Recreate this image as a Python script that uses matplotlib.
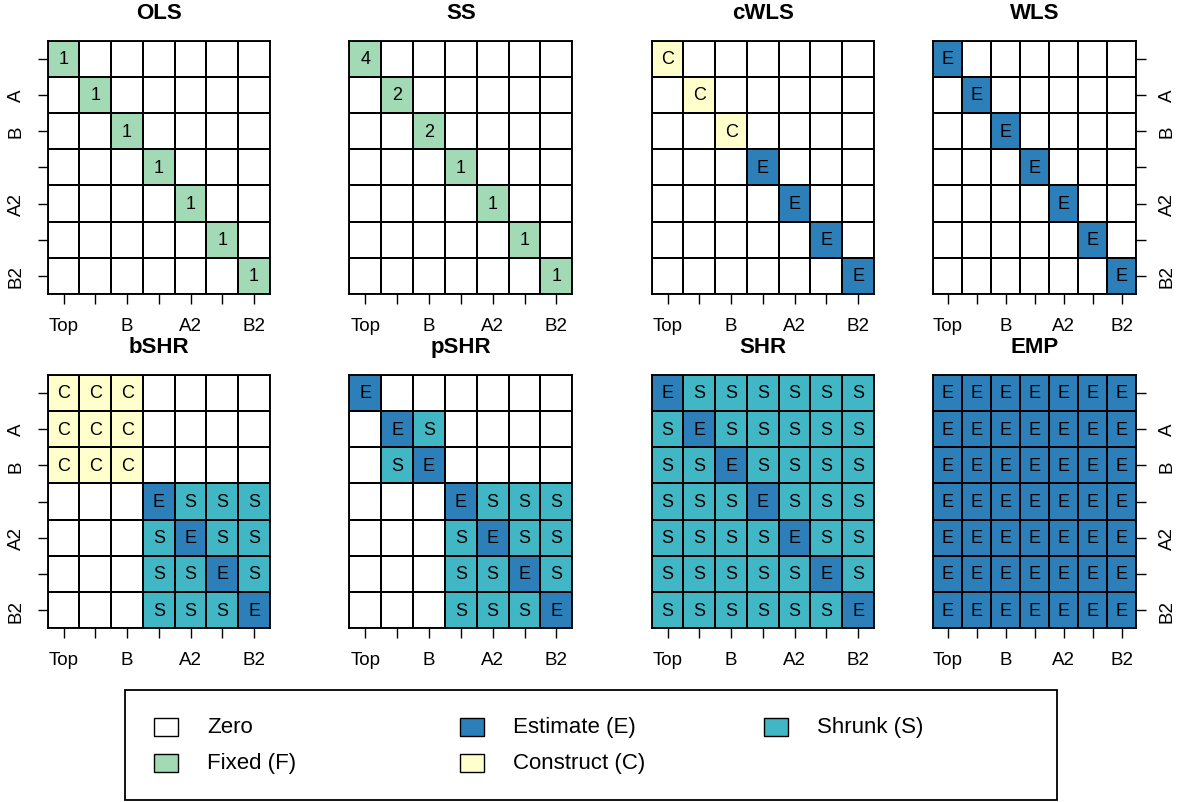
import matplotlib
matplotlib.use("Agg")
import matplotlib.pyplot as plt
import numpy as np
from matplotlib.colors import ListedColormap
from matplotlib.patches import Rectangle

plt.rcParams['font.family'] = ['Liberation Sans', 'DejaVu Sans']

# Series / hierarchy levels
levels = ["Top", "A", "B", "A1", "A2", "B1", "B2"]
x_tick_labels = ["Top", "", "B", "", "A2", "", "B2"]
y_tick_labels = ["", "A", "B", "", "A2", "", "B2"]

# Cell types: 0 Zero, F Fixed, E Estimate, S Shrunk, C Construct
panel_titles = ["OLS", "SS", "cWLS", "WLS", "bSHR", "pSHR", "SHR", "EMP"]

ols = ["F000000", "0F00000", "00F0000", "000F000", "0000F00", "00000F0", "000000F"]
ols_fixed = [1, 1, 1, 1, 1, 1, 1]
ss = ["F000000", "0F00000", "00F0000", "000F000", "0000F00", "00000F0", "000000F"]
ss_fixed = [4, 2, 2, 1, 1, 1, 1]
cwls = ["C000000", "0C00000", "00C0000", "000E000", "0000E00", "00000E0", "000000E"]
wls = ["E000000", "0E00000", "00E0000", "000E000", "0000E00", "00000E0", "000000E"]
bshr = ["CCC0000", "CCC0000", "CCC0000", "000ESSS", "000SESS", "000SSES", "000SSSE"]
pshr = ["E000000", "0ES0000", "0SE0000", "000ESSS", "000SESS", "000SSES", "000SSSE"]
shr = ["ESSSSSS", "SESSSSS", "SSESSSS", "SSSESSS", "SSSSESS", "SSSSSES", "SSSSSSE"]
emp = ["EEEEEEE"] * 7

panel_cells = [ols, ss, cwls, wls, bshr, pshr, shr, emp]
panel_fixed = [ols_fixed, ss_fixed, None, None, None, None, None, None]

type_codes = ["0", "F", "E", "S", "C"]
type_colors = ["#ffffff", "#a1dab4", "#2c7fb8", "#41b6c4", "#ffffcc"]
legend_names = ["Zero", "Fixed (F)", "Estimate (E)", "Construct (C)", "Shrunk (S)"]
legend_codes = ["0", "F", "E", "C", "S"]

W, H = 1180, 803
fig = plt.figure(figsize=(W / 100, H / 100), dpi=100)


def px_axes(x0, y0, x1, y1):
    return fig.add_axes([x0 / W, 1 - y1 / H, (x1 - x0) / W, (y1 - y0) / H])


cols_px = [(47.7, 270.0), (349.3, 572.3), (651.7, 874.0), (933.3, 1136.0)]
rows_px = [(41.7, 295.0), (375.7, 629.3)]

cmap = ListedColormap(type_colors)
n = len(levels)

for k, (title, cells, fixed) in enumerate(zip(panel_titles, panel_cells, panel_fixed)):
    r, c = divmod(k, 4)
    ax = px_axes(cols_px[c][0], rows_px[r][0], cols_px[c][1], rows_px[r][1])
    grid = np.array([[type_codes.index(ch) for ch in row] for row in cells])
    ax.pcolormesh(np.arange(n + 1), np.arange(n + 1), grid, cmap=cmap,
                  vmin=-0.5, vmax=len(type_codes) - 0.5,
                  edgecolors="black", linewidth=1.35)
    ax.set_xlim(0, n)
    ax.set_ylim(n, 0)
    for i in range(n):
        for j in range(n):
            ch = cells[i][j]
            if ch == "0":
                continue
            label = str(fixed[i]) if ch == "F" else ch
            ax.text(j + 0.5, i + 0.5, label, ha="center", va="center",
                    fontsize=13, color="black")
    for s in ax.spines.values():
        s.set_linewidth(1.35)
        s.set_color("black")
    ax.set_title(title, fontsize=16, fontweight="bold", pad=16)
    ax.set_xticks(np.arange(n) + 0.5)
    ax.set_xticklabels(x_tick_labels, fontsize=13.5)
    ax.tick_params(axis="x", length=7.5, width=1.0, pad=9)
    ax.set_yticks(np.arange(n) + 0.5)
    if c == 0:
        ax.set_yticklabels(y_tick_labels, fontsize=13.5, rotation=90, va="center")
        ax.tick_params(axis="y", length=7.5, width=1.0, pad=9)
    elif c == 3:
        ax.yaxis.tick_right()
        ax.set_yticklabels(y_tick_labels, fontsize=13.5, rotation=90, va="center")
        ax.tick_params(axis="y", length=7.5, width=1.0, pad=9)
    else:
        ax.tick_params(axis="y", left=False, labelleft=False)

# Legend panel
lax = fig.add_axes([0, 0, 1, 1])
lax.set_xlim(0, W)
lax.set_ylim(H, 0)
lax.axis("off")
lax.add_patch(Rectangle((125, 691), 932, 110, fill=False, edgecolor="black", linewidth=1.3))
legend_pos = [(154, 727.5), (154, 764), (460, 727.5), (460, 764), (764, 727.5)]
for (x, y), name, code in zip(legend_pos, legend_names, legend_codes):
    lax.add_patch(Rectangle((x, y - 9), 24, 18,
                            facecolor=type_colors[type_codes.index(code)],
                            edgecolor="black", linewidth=1.0))
    lax.text(x + 53, y, name, ha="left", va="center", fontsize=16)

fig.savefig("out.png", dpi=100)
